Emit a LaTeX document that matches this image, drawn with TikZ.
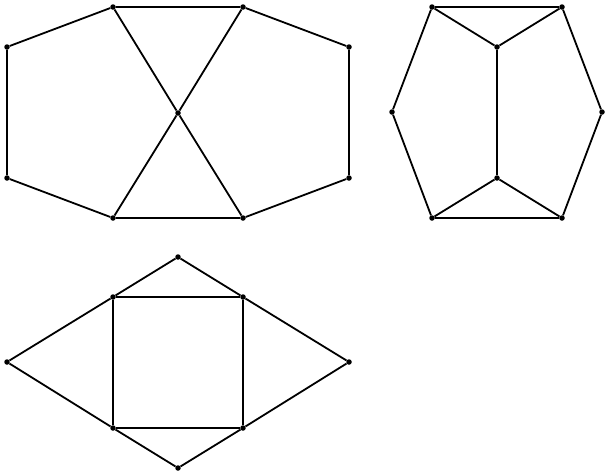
\documentclass[tikz,border=0pt]{standalone}
\usepackage{tikz}
\usetikzlibrary{positioning}

\begin{document}
\begin{tikzpicture}[
            x=1pt, y=-1pt,
            vertex/.style={circle, fill=black, inner sep=0pt, minimum size=5.5pt},
            edge/.style={line width=1.8pt}
        ]
        \useasboundingbox (0,0) rectangle (609,475);
        % top left: bow-tie graph
        \node[vertex] (bowTL) at (113,7) {};
        \node[vertex] (bowTR) at (243,7) {};
        \node[vertex] (bowUL) at (7,47) {};
        \node[vertex] (bowUR) at (349,47) {};
        \node[vertex] (bowC) at (178,113) {};
        \node[vertex] (bowDL) at (7,178) {};
        \node[vertex] (bowDR) at (349,178) {};
        \node[vertex] (bowBL) at (113,218) {};
        \node[vertex] (bowBR) at (243,218) {};
        \draw[edge] (bowUL) -- (bowTL) -- (bowTR) -- (bowUR) -- (bowDR) -- (bowBR) -- (bowBL) -- (bowDL) -- (bowUL);
        \draw[edge] (bowTL) -- (bowC) -- (bowBR);
        \draw[edge] (bowTR) -- (bowC) -- (bowBL);
        % top right: prism graph
        \node[vertex] (prTL) at (432,7) {};
        \node[vertex] (prTR) at (562,7) {};
        \node[vertex] (prUp) at (497,47) {};
        \node[vertex] (prL) at (392,112) {};
        \node[vertex] (prR) at (602,112) {};
        \node[vertex] (prLow) at (497,178) {};
        \node[vertex] (prBL) at (432,218) {};
        \node[vertex] (prBR) at (562,218) {};
        \draw[edge] (prTL) -- (prTR) -- (prR) -- (prBR) -- (prBL) -- (prL) -- (prTL);
        \draw[edge] (prTL) -- (prUp) -- (prTR);
        \draw[edge] (prBL) -- (prLow) -- (prBR);
        \draw[edge] (prUp) -- (prLow);
        % bottom: square with four triangles
        \node[vertex] (sqTop) at (178,257) {};
        \node[vertex] (sqA) at (113,297) {};
        \node[vertex] (sqB) at (243,297) {};
        \node[vertex] (sqLeft) at (7,362) {};
        \node[vertex] (sqRight) at (349,362) {};
        \node[vertex] (sqD) at (113,428) {};
        \node[vertex] (sqC) at (243,428) {};
        \node[vertex] (sqBot) at (178,468) {};
        \draw[edge] (sqA) -- (sqB) -- (sqC) -- (sqD) -- (sqA);
        \draw[edge] (sqA) -- (sqTop) -- (sqB);
        \draw[edge] (sqB) -- (sqRight) -- (sqC);
        \draw[edge] (sqC) -- (sqBot) -- (sqD);
        \draw[edge] (sqD) -- (sqLeft) -- (sqA);
        \end{tikzpicture}
\end{document}
